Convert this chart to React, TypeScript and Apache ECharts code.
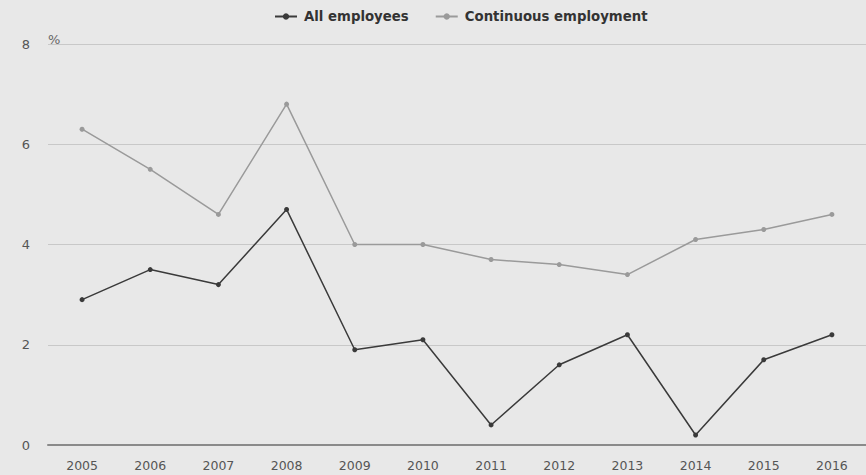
import React, { useEffect, useRef } from "react";
import * as echarts from "echarts";

const years = ["2005","2006","2007","2008","2009","2010","2011","2012","2013","2014","2015","2016"];
const allEmployees = [2.9, 3.5, 3.2, 4.7, 1.9, 2.1, 0.4, 1.6, 2.2, 0.2, 1.7, 2.2];
const continuousEmployment = [6.3, 5.5, 4.6, 6.8, 4.0, 4.0, 3.7, 3.6, 3.4, 4.1, 4.3, 4.6];
const yTicks = [0, 2, 4, 6, 8];

const FONT = "DejaVu Sans";

export default function App() {
  const ref = useRef<HTMLDivElement>(null);
  useEffect(() => {
    document.body.style.margin = "0";
    document.body.style.overflow = "hidden";
    const chart = echarts.init(ref.current!, undefined, { renderer: "svg" });
    chart.setOption({
      animation: false,
      backgroundColor: "#e8e8e8",
      textStyle: { fontFamily: FONT },
      legend: {
        top: 5,
        left: 269,
        itemGap: 26,
        itemWidth: 22,
        itemHeight: 8,
        textStyle: { fontFamily: FONT, fontWeight: "bold", fontSize: 13.3, color: "#333", padding: [0, 0, 0, 2] },
        data: ["All employees", "Continuous employment"],
      },
      grid: { left: 48, right: 0, top: 44, bottom: 30, containLabel: false },
      xAxis: {
        type: "category",
        data: years,
        boundaryGap: true,
        axisLine: { lineStyle: { color: "#8a8a8a", width: 2 } },
        axisTick: { alignWithLabel: true, length: 6, lineStyle: { color: "#c0c0c0" } },
        axisLabel: { color: "#555", fontSize: 12.5, fontFamily: FONT, margin: 14 },
      },
      yAxis: {
        type: "value",
        min: yTicks[0],
        max: yTicks[yTicks.length - 1],
        interval: 2,
        axisLine: { show: false },
        axisTick: { show: false },
        axisLabel: { color: "#555", fontSize: 13, fontFamily: FONT, margin: 18 },
        splitLine: { lineStyle: { color: "#c8c8c8", width: 1 } },
      },
      graphic: [
        {
          type: "text",
          left: 48,
          top: 33,
          style: { text: "%", fill: "#666", font: `13px ${FONT}` },
        },
      ],
      series: [
        {
          name: "All employees",
          type: "line",
          data: allEmployees,
          symbol: "circle",
          symbolSize: 5,
          lineStyle: { color: "#3a3a3a", width: 1.5 },
          itemStyle: { color: "#3a3a3a" },
        },
        {
          name: "Continuous employment",
          type: "line",
          data: continuousEmployment,
          symbol: "circle",
          symbolSize: 5,
          lineStyle: { color: "#9a9a9a", width: 1.5 },
          itemStyle: { color: "#9a9a9a" },
        },
      ],
    });
    return () => chart.dispose();
  }, []);
  return <div ref={ref} style={{ width: 866, height: 475 }} />;
}
